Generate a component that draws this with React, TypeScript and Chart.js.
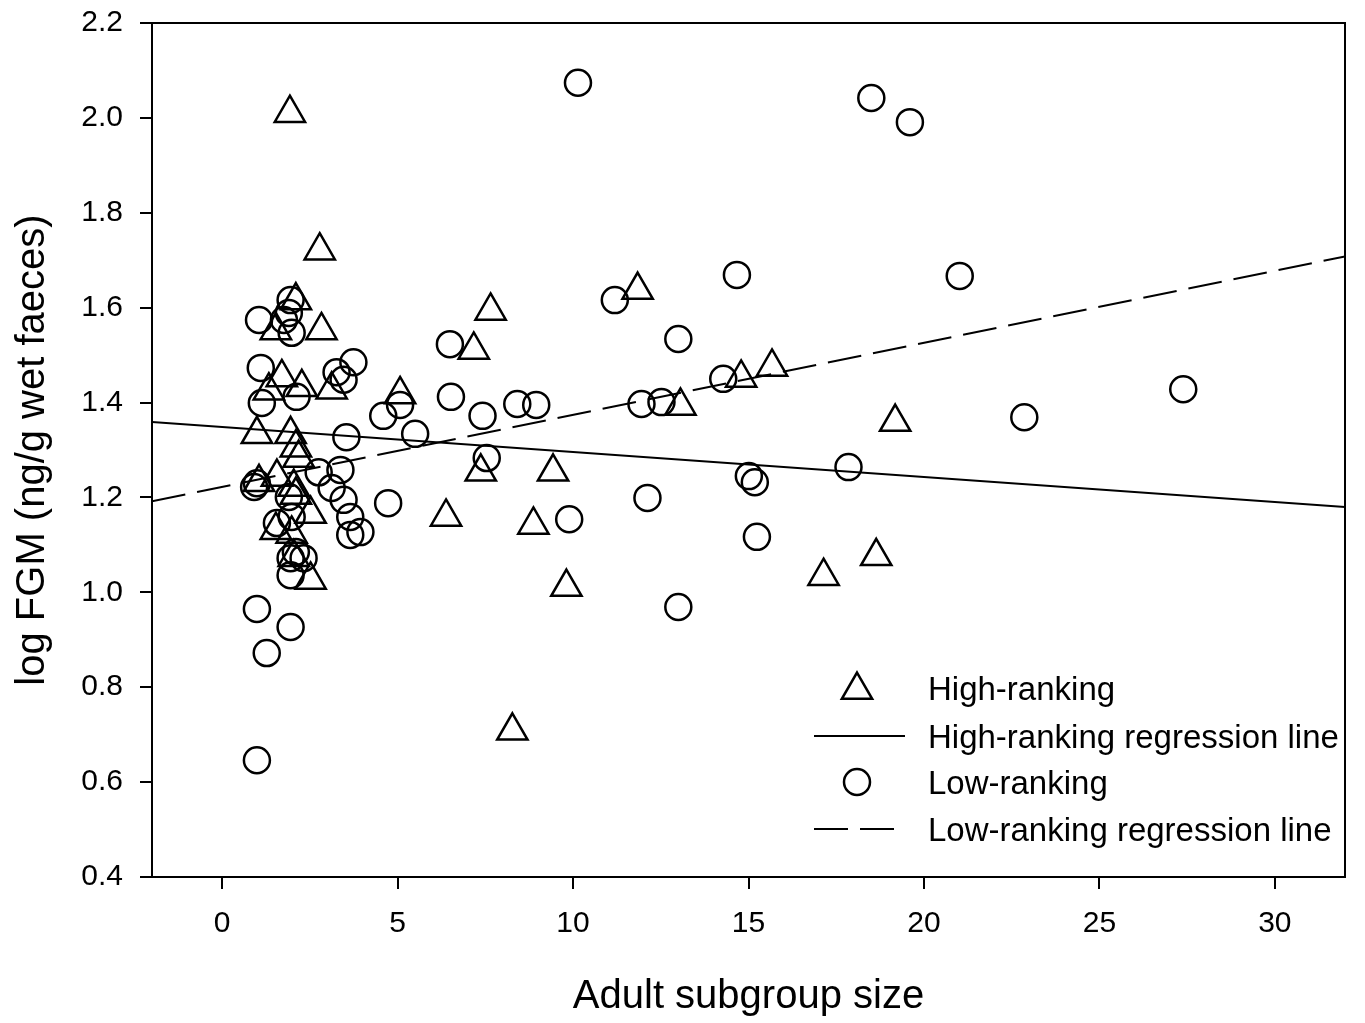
import React, { useEffect, useRef } from "react";
import { Chart, registerables } from "chart.js";

Chart.register(...registerables);

// High-ranking (triangles)
const highX = [1.93, 2.78, 11.84, 7.65, 7.17, 5.07, 13.06, 14.79, 15.67, 19.18, 18.64, 17.14, 7.37, 9.43, 6.38, 8.87, 9.81, 8.27,
  2.10, 2.83, 1.53, 1.70, 2.27, 3.12, 1.33, 0.99, 1.95, 2.10, 2.18, 1.05, 1.56, 2.04, 2.10, 2.52, 1.53, 1.98, 2.04, 2.52];
const highY = [2.010, 1.720, 1.637, 1.593, 1.511, 1.417, 1.393, 1.452, 1.475, 1.359, 1.076, 1.034, 1.254, 1.254, 1.159, 1.142, 1.011, 0.708,
  1.615, 1.552, 1.552, 1.453, 1.432, 1.427, 1.425, 1.333, 1.333, 1.305, 1.283, 1.232, 1.243, 1.222, 1.205, 1.165, 1.131, 1.123, 1.074, 1.026];

// Low-ranking (circles)
const lowX = [10.14, 18.50, 19.60, 14.67, 21.02, 11.19, 13.00, 6.49, 6.52, 27.39, 22.86, 14.28, 11.95, 12.52, 8.41, 8.95, 7.42, 7.54,
  4.59, 5.07, 5.50, 4.73, 17.85, 15.01, 15.18, 15.24, 12.12, 9.89, 13.00, 0.99, 1.27, 1.95, 0.99,
  1.05, 1.95, 1.90, 1.76, 1.98, 1.10, 1.13, 2.12, 3.26, 3.74, 3.46, 3.54,
  0.99, 0.91, 2.75, 3.37, 3.12, 3.46, 3.65, 3.65, 3.94, 1.90, 1.56, 1.98, 1.95, 2.32, 1.95, 2.10];
const lowY = [2.074, 2.042, 1.991, 1.669, 1.667, 1.616, 1.534, 1.523, 1.412, 1.428, 1.369, 1.450, 1.397, 1.401, 1.397, 1.395, 1.372, 1.283,
  1.372, 1.395, 1.334, 1.188, 1.264, 1.245, 1.232, 1.117, 1.199, 1.154, 0.969, 0.965, 0.872, 0.927, 0.646,
  1.574, 1.616, 1.589, 1.574, 1.547, 1.473, 1.399, 1.412, 1.464, 1.485, 1.448, 1.327,
  1.230, 1.222, 1.253, 1.258, 1.220, 1.195, 1.159, 1.121, 1.127, 1.201, 1.146, 1.159, 1.072, 1.072, 1.036, 1.085];

// Regression lines (endpoints at axis limits)
const highLineX = [-2, 32];
const highLineY = [1.359, 1.18];
const lowLineX = [-2, 32];
const lowLineY = [1.192, 1.708];

const xTicks = [0, 5, 10, 15, 20, 25, 30];
const yTicks = [0.4, 0.6, 0.8, 1.0, 1.2, 1.4, 1.6, 1.8, 2.0, 2.2];
const legendLabels = ["High-ranking", "High-ranking regression line", "Low-ranking", "Low-ranking regression line"];
const xTitle = "Adult subgroup size";
const yTitle = "log FGM (ng/g wet faeces)";

const FONT = "'Liberation Sans', Arial, sans-serif";

const zip = (xs: number[], ys: number[]) => xs.map((x, i) => ({ x, y: ys[i] }));

const framePlugin = {
  id: "frameAndLegend",
  afterDraw(chart: any) {
    const { ctx, chartArea: a } = chart;
    ctx.save();
    ctx.strokeStyle = "#000";
    ctx.lineWidth = 2;
    ctx.beginPath();
    ctx.moveTo(a.left, a.top);
    ctx.lineTo(a.right, a.top);
    ctx.lineTo(a.right, a.bottom);
    ctx.stroke();

    // legend
    const mx = 857;
    const lx0 = 814;
    const lx1 = 905;
    const tx = 928;
    const rows = [688, 736, 782, 829];
    ctx.font = `33px ${FONT}`;
    ctx.fillStyle = "#000";
    ctx.textAlign = "left";
    ctx.textBaseline = "alphabetic";
    legendLabels.forEach((t, i) => ctx.fillText(t, tx, rows[i] + 12));

    // triangle
    ctx.lineWidth = 2.5;
    const r = 17.5;
    const cy = rows[0] + 2;
    ctx.beginPath();
    for (let k = 0; k < 3; k++) {
      const ang = (k * 2 * Math.PI) / 3;
      const px = mx + Math.sin(ang) * r;
      const py = cy - Math.cos(ang) * r;
      if (k === 0) ctx.moveTo(px, py);
      else ctx.lineTo(px, py);
    }
    ctx.closePath();
    ctx.stroke();

    // solid
    ctx.lineWidth = 2;
    ctx.beginPath();
    ctx.moveTo(lx0, rows[1]);
    ctx.lineTo(lx1, rows[1]);
    ctx.stroke();

    // circle
    ctx.lineWidth = 2.5;
    ctx.beginPath();
    ctx.arc(mx, rows[2], 13, 0, Math.PI * 2);
    ctx.stroke();

    // dashed
    ctx.lineWidth = 2;
    ctx.setLineDash([34, 12]);
    ctx.beginPath();
    ctx.moveTo(lx0, rows[3]);
    ctx.lineTo(lx1, rows[3]);
    ctx.stroke();
    ctx.setLineDash([]);
    ctx.restore();
  },
};

export default function App() {
  const ref = useRef<HTMLCanvasElement>(null);

  useEffect(() => {
    if (!ref.current) return;
    const chart = new Chart(ref.current, {
      type: "scatter",
      data: {
        datasets: [
          {
            label: legendLabels[0],
            data: zip(highX, highY),
            pointStyle: "triangle",
            pointRadius: 17.5,
            pointBorderWidth: 2.5,
            borderColor: "#000",
            backgroundColor: "rgba(0,0,0,0)",
            showLine: false,
          },
          {
            label: legendLabels[2],
            data: zip(lowX, lowY),
            pointStyle: "circle",
            pointRadius: 13,
            pointBorderWidth: 2.5,
            borderColor: "#000",
            backgroundColor: "rgba(0,0,0,0)",
            showLine: false,
          },
          {
            type: "line",
            label: legendLabels[1],
            data: zip(highLineX, highLineY),
            borderColor: "#000",
            borderWidth: 2,
            pointRadius: 0,
            fill: false,
          } as any,
          {
            type: "line",
            label: legendLabels[3],
            data: zip(lowLineX, lowLineY),
            borderColor: "#000",
            borderWidth: 2,
            borderDash: [34, 12],
            pointRadius: 0,
            fill: false,
          } as any,
        ],
      },
      options: {
        animation: false,
        responsive: false,
        devicePixelRatio: 1,
        events: [],
        layout: { padding: { left: 0, top: 23, right: 13, bottom: 0 } },
        plugins: { legend: { display: false }, tooltip: { enabled: false } },
        scales: {
          x: {
            type: "linear",
            min: -2,
            max: 32,
            afterBuildTicks: (s: any) => {
              s.ticks = xTicks.map((v) => ({ value: v }));
            },
            afterFit: (s: any) => {
              s.height = 146;
              s.paddingLeft = 0;
              s.paddingRight = 0;
            },
            ticks: {
              font: { family: FONT, size: 30 },
              color: "#000",
              padding: 17,
              maxRotation: 0,
              callback: (v: any) => String(v),
            },
            grid: { drawOnChartArea: false, drawTicks: true, tickLength: 12, lineWidth: 2, color: "#000" },
            border: { display: true, width: 2, color: "#000" },
            title: {
              display: true,
              text: xTitle,
              font: { family: FONT, size: 40 },
              color: "#000",
              padding: { top: 0, bottom: 2 },
            },
          },
          y: {
            type: "linear",
            min: 0.4,
            max: 2.2,
            afterBuildTicks: (s: any) => {
              s.ticks = yTicks.map((v) => ({ value: v }));
            },
            afterFit: (s: any) => {
              s.width = 152;
              s.paddingTop = 0;
              s.paddingBottom = 0;
            },
            ticks: {
              font: { family: FONT, size: 30 },
              color: "#000",
              padding: 17,
              callback: (v: any) => Number(v).toFixed(1),
            },
            grid: { drawOnChartArea: false, drawTicks: true, tickLength: 12, lineWidth: 2, color: "#000" },
            border: { display: true, width: 2, color: "#000" },
            title: {
              display: true,
              text: yTitle,
              font: { family: FONT, size: 40 },
              color: "#000",
              padding: { top: 9, bottom: 0 },
            },
          },
        },
      },
      plugins: [framePlugin],
    } as any);
    return () => chart.destroy();
  }, []);

  return (
    <div style={{ position: "absolute", left: 0, top: 0, width: 1365, height: 1023, background: "#fff" }}>
      <canvas ref={ref} width={1365} height={1023} style={{ display: "block" }} />
    </div>
  );
}
